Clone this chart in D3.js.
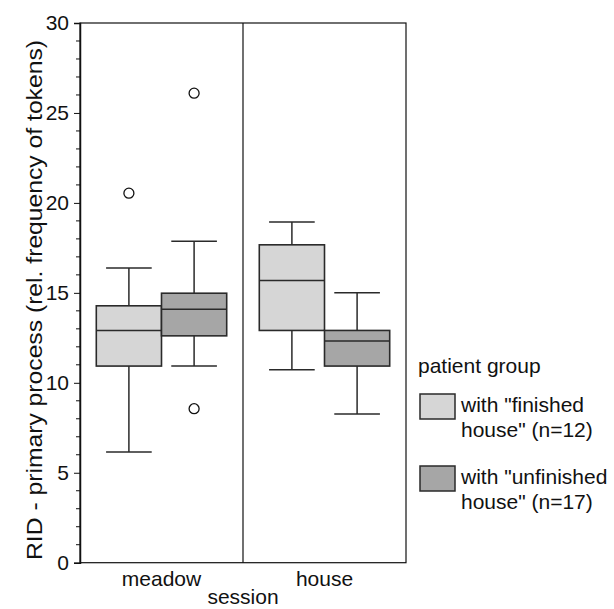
<!DOCTYPE html>
<html>
<head>
<meta charset="utf-8">
<script src="https://cdn.jsdelivr.net/npm/d3@7"></script>
<style>
  body { margin: 0; background: #fff; }
  text { font-family: "Liberation Sans", Arial, sans-serif; fill: #111; }
</style>
</head>
<body>
<div id="viz"></div>
<script>
var sessions = ["meadow", "house"];
var groups = ["finished", "unfinished"];
var groupLabels = [["with \"finished", "house\" (n=12)"], ["with \"unfinished", "house\" (n=17)"]];
var groupColors = ["#d6d6d6", "#a6a6a6"];

// [lowWhisker, q1, median, q3, highWhisker]
var meadowStats = [[6.15, 10.93, 12.91, 14.28, 16.38], [10.93, 12.61, 14.09, 14.98, 17.87]];
var houseStats  = [[10.72, 12.91, 15.69, 17.67, 18.94], [8.26, 10.93, 12.32, 12.91, 15.0]];
var meadowOutliers = [[20.54], [8.56, 26.1]];
var houseOutliers  = [[], []];
var yTicks = [0, 5, 10, 15, 20, 25, 30];

var width = 614, height = 609;
var margin = {left: 80, right: 208, top: 23, bottom: 46};
var fs = "21px";

var svg = d3.select("#viz")
    .append("svg")
    .attr("width", width)
    .attr("height", height);

var y = d3.scaleLinear().domain([0, 30]).range([562.7, margin.top]);
var x = d3.scaleBand().domain(sessions).range([margin.left, width - margin.right]).padding(0);
var xg = d3.scaleBand().domain(groups).range([0, x.bandwidth()]).paddingInner(0).paddingOuter(0.25);

var rows = [];
sessions.forEach(function(s, si) {
    var stats = si == 0 ? meadowStats : houseStats;
    var outs = si == 0 ? meadowOutliers : houseOutliers;
    groups.forEach(function(g, gi) {
        rows.push({session: s, group: g, gi: gi, st: stats[gi], out: outs[gi]});
    });
});

// frame
var x0 = margin.left, x1 = width - margin.right, yTop = y(30), yBot = y(0);
svg.append("rect")
    .attr("x", x0).attr("y", yTop)
    .attr("width", x1 - x0).attr("height", yBot - yTop)
    .style("fill", "none").style("stroke", "#111").style("stroke-width", 1.2);
svg.append("line")
    .attr("x1", x(sessions[1])).attr("x2", x(sessions[1]))
    .attr("y1", yTop).attr("y2", yBot)
    .style("stroke", "#111").style("stroke-width", 1.2);

// y axis
var yAxis = d3.axisLeft(y).tickValues(yTicks).tickSize(6).tickPadding(5);
var ga = svg.append("g").attr("transform", "translate(" + x0 + ",0)").call(yAxis);
ga.select(".domain").style("stroke", "#111").style("stroke-width", 1.5);
ga.selectAll(".tick line").style("stroke", "#111");
ga.selectAll(".tick text")
    .style("font-size", fs)
    .style("font-family", "Liberation Sans, Arial, sans-serif")
    .attr("fill", "#111");

var minor = d3.range(0, 31).filter(function(d) { return d % 5 != 0; });
svg.append("g").selectAll("line")
    .data(minor)
    .enter().append("line")
    .attr("x1", x0 - 4).attr("x2", x0)
    .attr("y1", function(d) { return y(d); })
    .attr("y2", function(d) { return y(d); })
    .style("stroke", "#111");

svg.append("text")
    .attr("transform", "translate(42,300) rotate(-90)")
    .attr("text-anchor", "middle")
    .attr("textLength", 520)
    .attr("lengthAdjust", "spacingAndGlyphs")
    .style("font-size", "22px")
    .text("RID - primary process (rel. frequency of tokens)");

// x labels
svg.selectAll(".xlab")
    .data(sessions)
    .enter().append("text")
    .attr("class", "xlab")
    .attr("x", function(d) { return x(d) + x.bandwidth() / 2; })
    .attr("y", 586)
    .attr("text-anchor", "middle")
    .style("font-size", fs)
    .text(function(d) { return d; });

svg.append("text")
    .attr("x", (x0 + x1) / 2).attr("y", 604)
    .attr("text-anchor", "middle")
    .style("font-size", fs)
    .text("session");

// boxes
var bw = xg.bandwidth();
var box = svg.selectAll(".box")
    .data(rows)
    .enter().append("g")
    .attr("class", "box")
    .attr("transform", function(d) { return "translate(" + (x(d.session) + xg(d.group)) + ",0)"; });

var stroke = "#2a2a2a";
box.append("line")
    .attr("x1", bw / 2).attr("x2", bw / 2)
    .attr("y1", function(d) { return y(d.st[0]); })
    .attr("y2", function(d) { return y(d.st[4]); })
    .style("stroke", stroke).style("stroke-width", 1.5);
box.selectAll(".cap")
    .data(function(d) { return [d.st[0], d.st[4]]; })
    .enter().append("line")
    .attr("x1", bw * 0.15).attr("x2", bw * 0.85)
    .attr("y1", function(v) { return y(v); })
    .attr("y2", function(v) { return y(v); })
    .style("stroke", stroke).style("stroke-width", 1.5);
box.append("rect")
    .attr("x", 0).attr("width", bw)
    .attr("y", function(d) { return y(d.st[3]); })
    .attr("height", function(d) { return y(d.st[1]) - y(d.st[3]); })
    .style("fill", function(d) { return groupColors[d.gi]; })
    .style("stroke", stroke).style("stroke-width", 1.6);
box.append("line")
    .attr("x1", 0).attr("x2", bw)
    .attr("y1", function(d) { return y(d.st[2]); })
    .attr("y2", function(d) { return y(d.st[2]); })
    .style("stroke", stroke).style("stroke-width", 1.6);
box.selectAll("circle")
    .data(function(d) { return d.out; })
    .enter().append("circle")
    .attr("cx", bw / 2)
    .attr("cy", function(v) { return y(v); })
    .attr("r", 5)
    .style("fill", "white").style("stroke", "#111").style("stroke-width", 1.3);

// legend
svg.append("text")
    .attr("x", 418).attr("y", 373)
    .style("font-size", fs)
    .text("patient group");

var leg = svg.selectAll(".leg")
    .data(groups)
    .enter().append("g")
    .attr("class", "leg")
    .attr("transform", function(d, i) { return "translate(420," + (394 + i * 72) + ")"; });
leg.append("rect")
    .attr("width", 35).attr("height", 25)
    .style("fill", function(d, i) { return groupColors[i]; })
    .style("stroke", stroke).style("stroke-width", 1.5);
leg.append("text")
    .attr("x", 41).attr("y", 18)
    .style("font-size", fs)
    .text(function(d, i) { return groupLabels[i][0]; });
leg.append("text")
    .attr("x", 41).attr("y", 43)
    .style("font-size", fs)
    .text(function(d, i) { return groupLabels[i][1]; });
</script>
</body>
</html>
